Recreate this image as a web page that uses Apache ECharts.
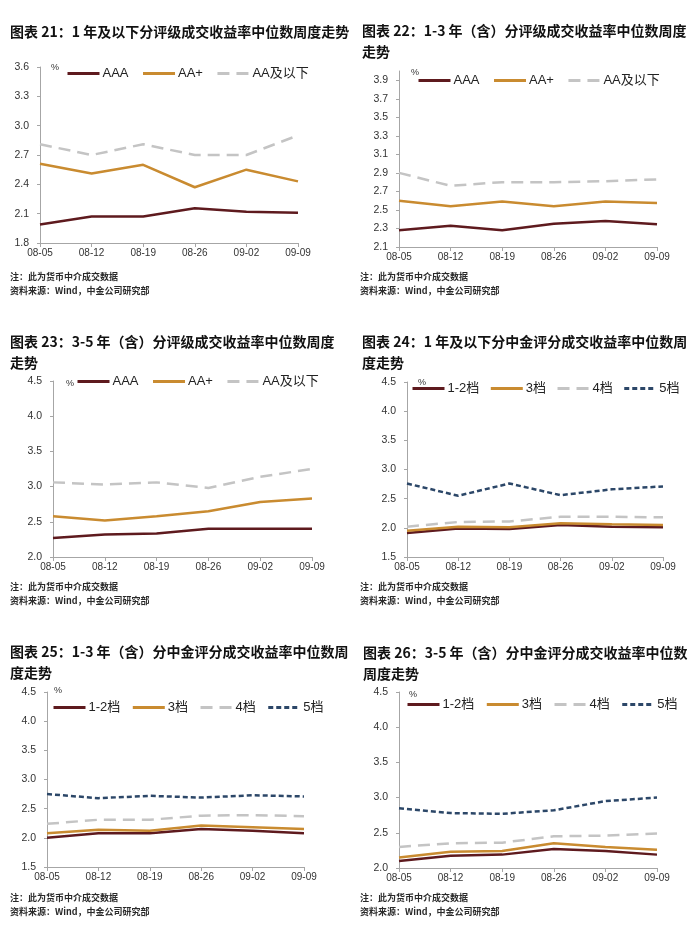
<!DOCTYPE html>
<html>
<head>
<meta charset="utf-8">
<script src="https://cdn.jsdelivr.net/npm/echarts@6/dist/echarts.min.js"></script>
<style>
html,body{margin:0;padding:0;background:#fff;}
#c{width:700px;height:930px;}
</style>
</head>
<body>
<div id="c"></div>
<script>
// ---------- DATA ----------
const categories = ['08-05', '08-12', '08-19', '08-26', '09-02', '09-09'];

const ratingNames = ['AAA', 'AA+', 'AA及以下'];
const gradeNames = ['1-2档', '3档', '4档', '5档'];

// 图表21: 1年及以下 分评级
const p1_AAA = [1.99, 2.07, 2.07, 2.155, 2.12, 2.11];
const p1_AAplus = [2.61, 2.51, 2.60, 2.37, 2.55, 2.43];
const p1_AAbelow = [2.81, 2.70, 2.81, 2.70, 2.70, 2.90];
// 图表22: 1-3年 分评级
const p2_AAA = [2.28, 2.33, 2.28, 2.35, 2.38, 2.345];
const p2_AAplus = [2.60, 2.54, 2.59, 2.54, 2.59, 2.575];
const p2_AAbelow = [2.90, 2.76, 2.80, 2.80, 2.81, 2.83];
// 图表23: 3-5年 分评级
const p3_AAA = [2.27, 2.32, 2.335, 2.40, 2.40, 2.40];
const p3_AAplus = [2.58, 2.52, 2.58, 2.65, 2.78, 2.83];
const p3_AAbelow = [3.06, 3.03, 3.06, 2.98, 3.14, 3.25];
// 图表24: 1年及以下 分中金评分
const p4_g12 = [1.91, 1.99, 1.98, 2.05, 2.02, 2.01];
const p4_g3 = [1.95, 2.02, 2.01, 2.08, 2.06, 2.05];
const p4_g4 = [2.02, 2.10, 2.11, 2.19, 2.19, 2.18];
const p4_g5 = [2.76, 2.55, 2.76, 2.56, 2.66, 2.71];
// 图表25: 1-3年 分中金评分
const p5_g12 = [2.00, 2.08, 2.08, 2.15, 2.12, 2.08];
const p5_g3 = [2.08, 2.14, 2.12, 2.21, 2.18, 2.15];
const p5_g4 = [2.24, 2.31, 2.31, 2.38, 2.39, 2.37];
const p5_g5 = [2.75, 2.68, 2.72, 2.69, 2.73, 2.71];
// 图表26: 3-5年 分中金评分
const p6_g12 = [2.10, 2.175, 2.19, 2.27, 2.24, 2.19];
const p6_g3 = [2.15, 2.23, 2.24, 2.35, 2.30, 2.26];
const p6_g4 = [2.30, 2.35, 2.36, 2.45, 2.46, 2.49];
const p6_g5 = [2.85, 2.78, 2.77, 2.82, 2.95, 3.00];

// y-axis tick labels
const ticks1 = [1.8, 2.1, 2.4, 2.7, 3.0, 3.3, 3.6];
const ticks2 = [2.1, 2.3, 2.5, 2.7, 2.9, 3.1, 3.3, 3.5, 3.7, 3.9];
const ticks3 = [2.0, 2.5, 3.0, 3.5, 4.0, 4.5];
const ticks4 = [1.5, 2.0, 2.5, 3.0, 3.5, 4.0, 4.5];
const ticks5 = [1.5, 2.0, 2.5, 3.0, 3.5, 4.0, 4.5];
const ticks6 = [2.0, 2.5, 3.0, 3.5, 4.0, 4.5];
const axisMax2 = 4.0;

const titles = [
  '图表 21：1 年及以下分评级成交收益率中位数周度走势',
  '图表 22：1-3 年（含）分评级成交收益率中位数周度\n走势',
  '图表 23：3-5 年（含）分评级成交收益率中位数周度\n走势',
  '图表 24：1 年及以下分中金评分成交收益率中位数周\n度走势',
  '图表 25：1-3 年（含）分中金评分成交收益率中位数周\n度走势',
  '图表 26：3-5 年（含）分中金评分成交收益率中位数\n周度走势'
];
const note1 = '注：此为货币中介成交数据';
const note2 = '资料来源：Wind，中金公司研究部';
const unitText = '%';

// ---------- LAYOUT / STYLE ----------
const panels = [
  {grid: {left: 40, top: 67, width: 258, height: 176}, ticks: ticks1, min: ticks1[0], max: ticks1[ticks1.length - 1],
   names: ratingNames, data: [p1_AAA, p1_AAplus, p1_AAbelow],
   title: {left: 10, top: 21.5}, notes: {left: 10, top: 270}, unit: {x: 51, y: 63},
   legend: {left: 66, top: 67, gap: 13}},
  {grid: {left: 399, top: 71, width: 258, height: 176}, ticks: ticks2, min: ticks2[0], max: axisMax2,
   names: ratingNames, data: [p2_AAA, p2_AAplus, p2_AAbelow],
   title: {left: 362, top: 20.5}, notes: {left: 360, top: 270}, unit: {x: 411, y: 68},
   legend: {left: 417, top: 74, gap: 13}},
  {grid: {left: 53, top: 381, width: 259, height: 176}, ticks: ticks3, min: ticks3[0], max: ticks3[ticks3.length - 1],
   names: ratingNames, data: [p3_AAA, p3_AAplus, p3_AAbelow],
   title: {left: 10, top: 331.5}, notes: {left: 10, top: 580}, unit: {x: 66, y: 379},
   legend: {left: 76, top: 375, gap: 13}},
  {grid: {left: 407, top: 382, width: 256, height: 175}, ticks: ticks4, min: ticks4[0], max: ticks4[ticks4.length - 1],
   names: gradeNames, data: [p4_g12, p4_g3, p4_g4, p4_g5],
   title: {left: 362, top: 331.5}, notes: {left: 360, top: 580}, unit: {x: 418, y: 378},
   legend: {left: 411, top: 382, gap: 10}},
  {grid: {left: 47, top: 692, width: 257, height: 175}, ticks: ticks5, min: ticks5[0], max: ticks5[ticks5.length - 1],
   names: gradeNames, data: [p5_g12, p5_g3, p5_g4, p5_g5],
   title: {left: 10, top: 641.5}, notes: {left: 10, top: 891}, unit: {x: 54, y: 686},
   legend: {left: 52, top: 701, gap: 11}},
  {grid: {left: 399, top: 692, width: 258, height: 176}, ticks: ticks6, min: ticks6[0], max: ticks6[ticks6.length - 1],
   names: gradeNames, data: [p6_g12, p6_g3, p6_g4, p6_g5],
   title: {left: 363, top: 642.5}, notes: {left: 360, top: 891}, unit: {x: 409, y: 690},
   legend: {left: 406, top: 698, gap: 11}}
];

const lineStyles = {
  'AAA': {color: '#5e1a1e', type: 'solid'},
  'AA+': {color: '#c98b30', type: 'solid'},
  'AA及以下': {color: '#c4c4c4', type: [12, 7]},
  '1-2档': {color: '#5e1a1e', type: 'solid'},
  '3档': {color: '#c98b30', type: 'solid'},
  '4档': {color: '#c4c4c4', type: [12, 7]},
  '5档': {color: '#2c4768', type: [5, 3]}
};

const axisColor = '#a6a6a6';
const labelColor = '#333';
const latin = '"Liberation Sans", Arial, "Noto Sans CJK SC", sans-serif';
const cjk = '"Noto Sans CJK SC", "Liberation Sans", sans-serif';

const option = {
  backgroundColor: '#fff',
  animation: false,
  title: [],
  grid: [],
  xAxis: [],
  yAxis: [],
  legend: [],
  series: [],
  graphic: []
};

panels.forEach((p, i) => {
  option.grid.push(Object.assign({containLabel: false}, p.grid));
  option.xAxis.push({
    type: 'category', gridIndex: i, data: categories, boundaryGap: false,
    axisLine: {lineStyle: {color: axisColor, width: 1}},
    axisTick: {show: true, length: 4, inside: false, lineStyle: {color: axisColor}},
    axisLabel: {color: labelColor, fontSize: 10, fontFamily: latin, margin: 5, interval: 0},
    splitLine: {show: false}
  });
  option.yAxis.push({
    type: 'value', gridIndex: i, min: p.min, max: p.max,
    axisLine: {show: true, lineStyle: {color: axisColor, width: 1}},
    axisTick: {show: true, length: 3, lineStyle: {color: axisColor}, customValues: p.ticks},
    axisLabel: {color: labelColor, fontSize: 10.5, fontFamily: latin, margin: 11,
      customValues: p.ticks, formatter: v => Number(v).toFixed(1)},
    splitLine: {show: false}
  });
  option.title.push({
    text: titles[i], left: p.title.left, top: p.title.top, padding: 0,
    textStyle: {fontSize: 14, fontWeight: 'bold', color: '#111', fontFamily: cjk, lineHeight: 21}
  });
  option.title.push({
    text: note1 + '\n' + note2, left: p.notes.left, top: p.notes.top, padding: 0,
    textStyle: {fontSize: 9, fontWeight: 'bold', color: '#2a2a2a', fontFamily: cjk, lineHeight: 14}
  });
  option.graphic.push({
    type: 'text', x: p.unit.x, y: p.unit.y,
    style: {text: unitText, fontSize: 9, fill: '#333', font: '9px ' + latin}
  });
  option.legend.push({
    data: p.names, left: p.legend.left, top: p.legend.top, orient: 'horizontal',
    itemWidth: 32, itemHeight: 14, itemGap: p.legend.gap, padding: 0,
    selectedMode: false,
    itemStyle: {opacity: 0},
    lineStyle: {width: 3},
    textStyle: {fontSize: 13, color: '#222', fontFamily: latin, padding: [0, 0, 0, -2]}
  });
  p.names.forEach((name, k) => {
    const ls = lineStyles[name];
    option.series.push({
      type: 'line', name: name, xAxisIndex: i, yAxisIndex: i,
      data: p.data[k], symbol: 'none', showSymbol: false,
      lineStyle: {color: ls.color, width: 2.5, type: ls.type},
      itemStyle: {color: ls.color},
      z: 2 + k
    });
  });
});

const chart = echarts.init(document.getElementById('c'), null, {renderer: 'canvas'});
chart.setOption(option);
</script>
</body>
</html>
